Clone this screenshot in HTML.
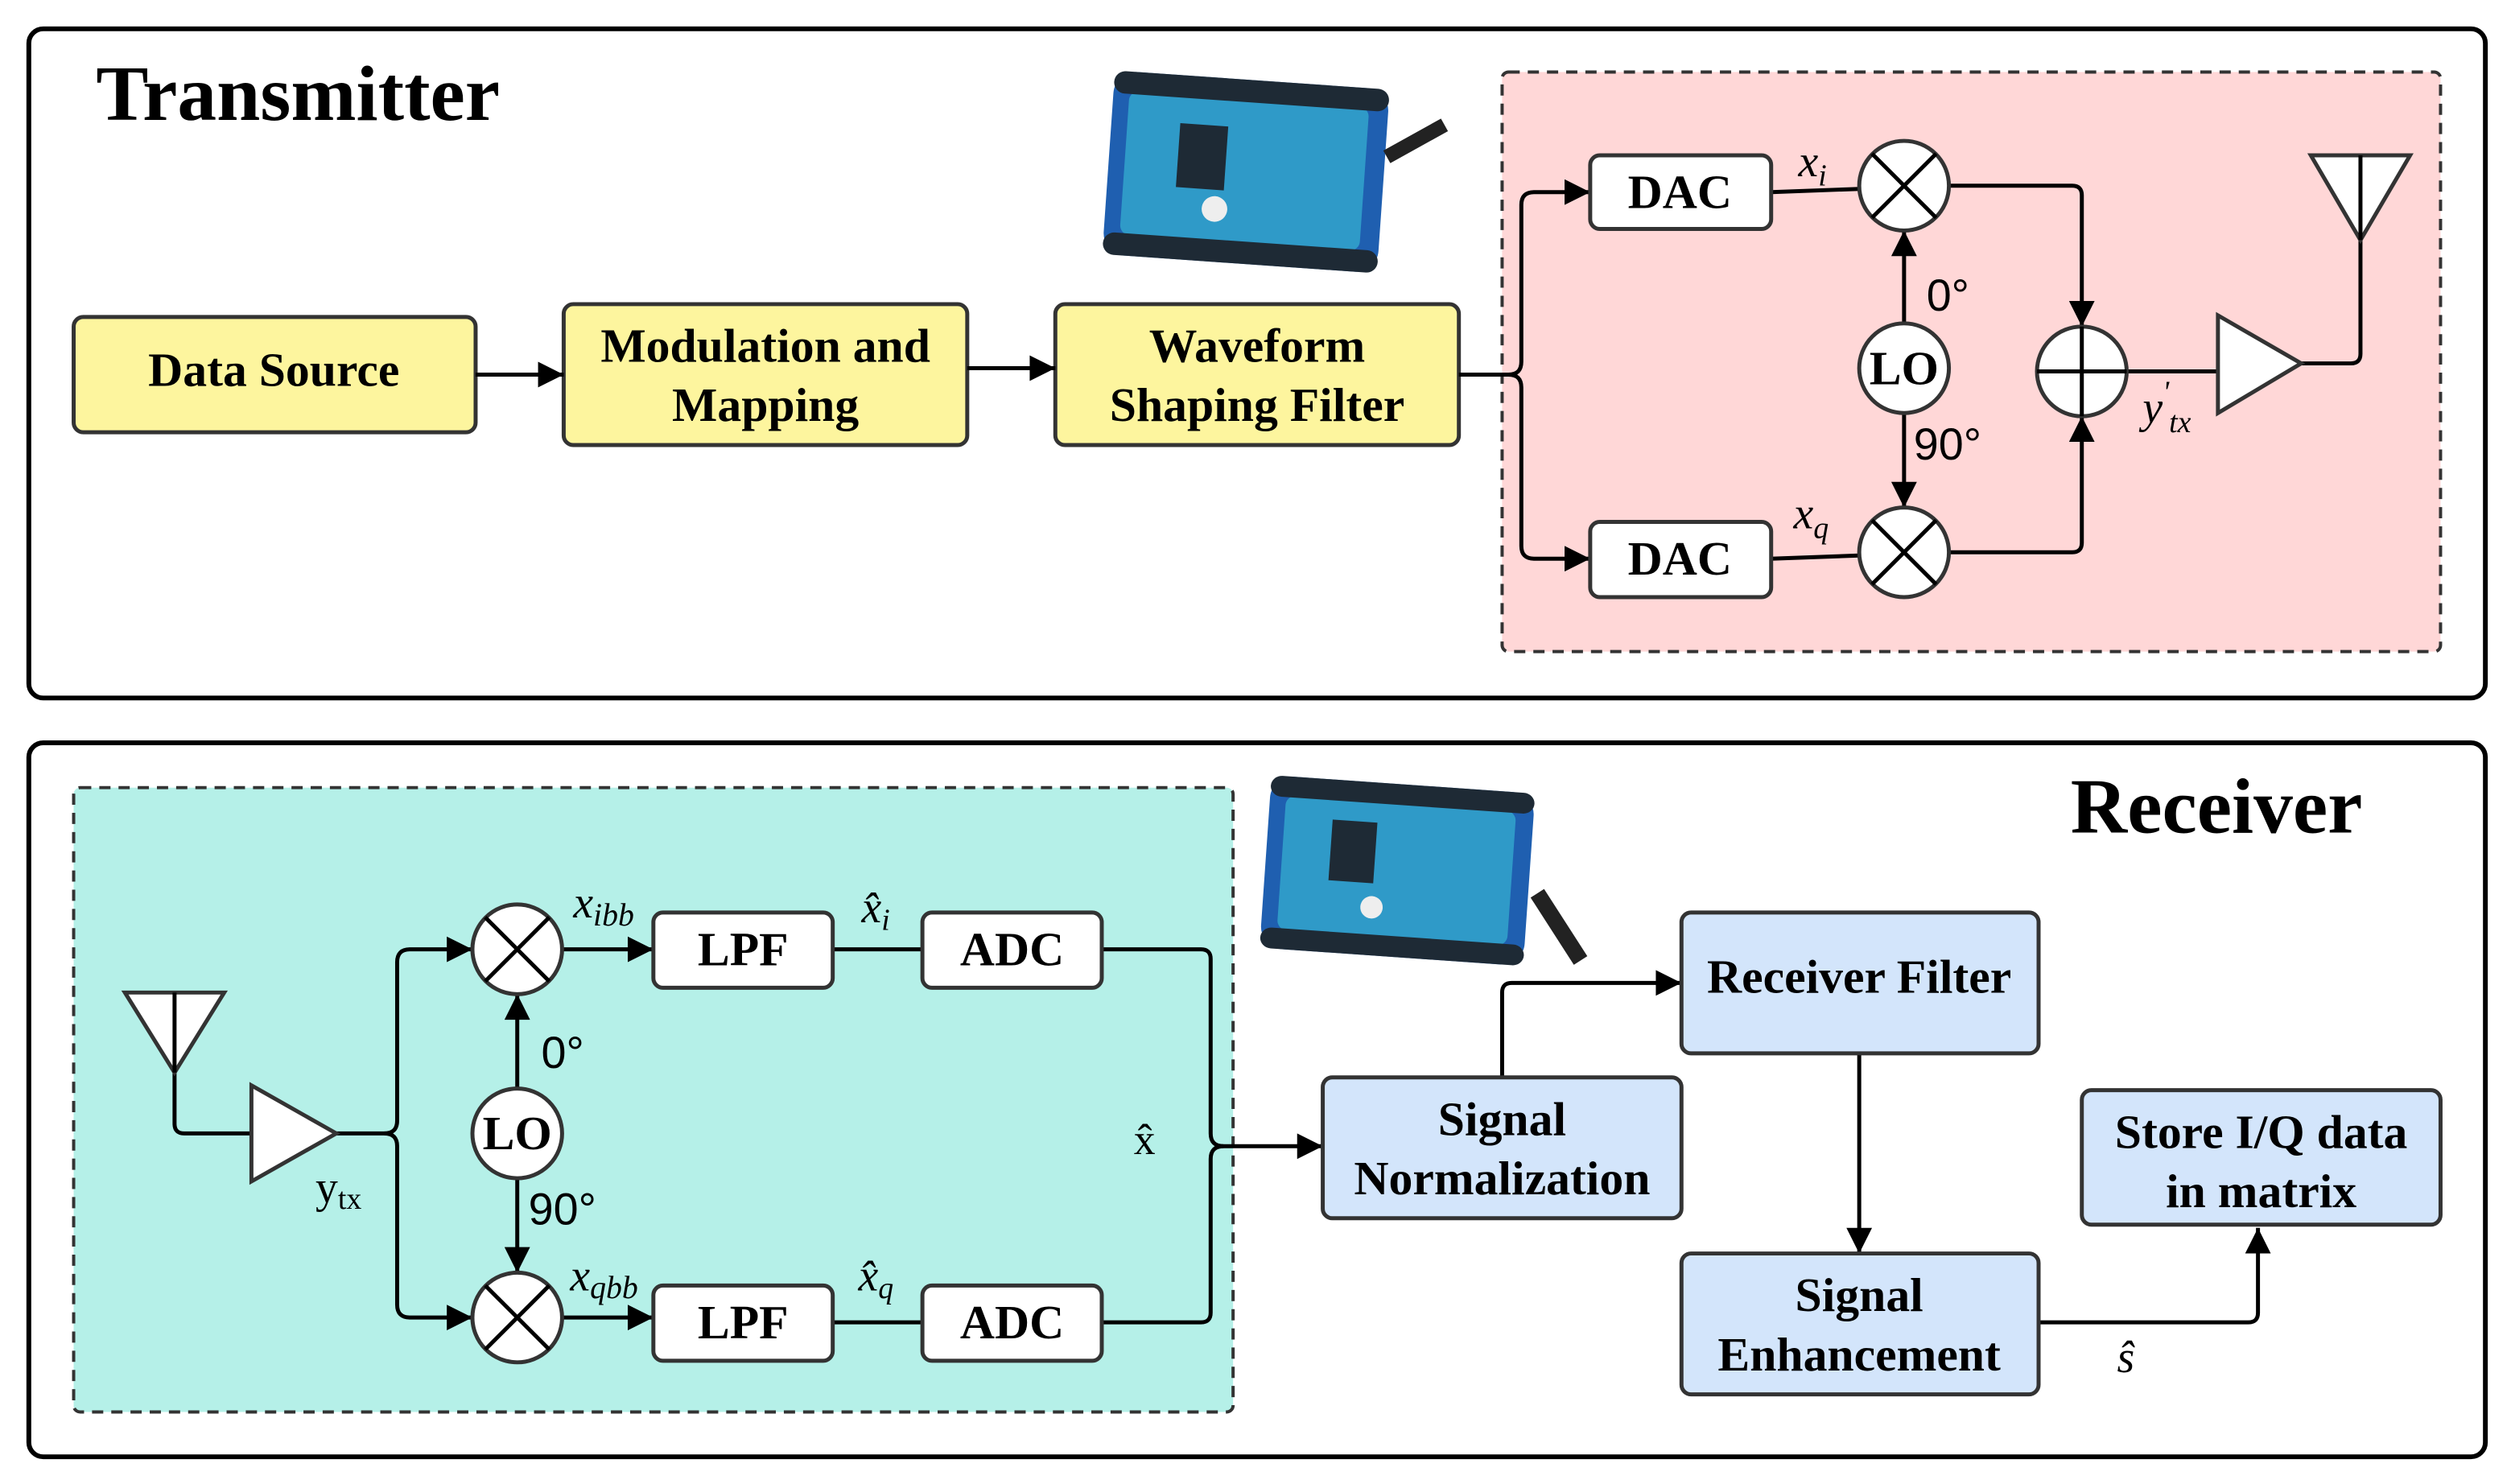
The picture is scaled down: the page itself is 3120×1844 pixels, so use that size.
<!DOCTYPE html>
<html><head><meta charset="utf-8"><style>
html,body{margin:0;padding:0;background:#fff;}
svg{display:block;}
.b{font-family:"Liberation Serif",serif;font-weight:bold;font-size:30px;fill:#000;text-anchor:middle;}
.m{font-family:"Liberation Serif",serif;font-style:italic;font-size:28px;fill:#000;}
.n{font-family:"Liberation Sans",sans-serif;font-size:28px;fill:#000;}
</style></head><body>
<svg width="3120" height="1844" viewBox="0 0 1568 927" preserveAspectRatio="none" xmlns="http://www.w3.org/2000/svg">
<defs>
<marker id="A" viewBox="0 0 10 10" markerWidth="20" markerHeight="16" refX="10" refY="5" orient="auto" markerUnits="userSpaceOnUse"><path d="M0,0 L10,5 L0,10 Z" fill="#000"/></marker></defs>
<rect x="0" y="0" width="1568" height="927" fill="#fff"/>
<rect x="18" y="18" width="1534" height="418" rx="9" fill="none" stroke="#000" stroke-width="3"/>
<rect x="18" y="464" width="1534" height="446" rx="9" fill="none" stroke="#000" stroke-width="3"/>
<text x="60" y="75" font-family="Liberation Serif,serif" font-weight="bold" font-size="49">Transmitter</text>
<text x="1293" y="520" font-family="Liberation Serif,serif" font-weight="bold" font-size="49">Receiver</text>
<rect x="938" y="45" width="586" height="362" rx="4" fill="#ffd7d7" stroke="#333" stroke-width="2" stroke-dasharray="7,5"/>
<rect x="46" y="492" width="724" height="390" rx="4" fill="#b5f0e8" stroke="#333" stroke-width="2" stroke-dasharray="7,5"/>
<g transform="rotate(4 780 108)">
<rect x="692" y="50" width="172" height="115" rx="14" fill="#1f5fb0"/>
<rect x="702" y="62" width="150" height="90" rx="6" fill="#2f9ac8"/>
<rect x="692" y="50" width="172" height="14" rx="7" fill="#1e2a35"/>
<rect x="692" y="151" width="172" height="14" rx="7" fill="#1e2a35"/>
<rect x="735" y="80" width="30" height="40" fill="#1e2a35"/>
<circle cx="760" cy="132" r="8" fill="#eee"/>
</g>
<line x1="866" y1="98" x2="902" y2="78" stroke="#222" stroke-width="9"/>
<g transform="rotate(4 875 545)">
<rect x="790" y="490" width="165" height="108" rx="14" fill="#1f5fb0"/>
<rect x="800" y="502" width="144" height="84" rx="6" fill="#2f9ac8"/>
<rect x="790" y="490" width="165" height="13" rx="7" fill="#1e2a35"/>
<rect x="790" y="585" width="165" height="13" rx="7" fill="#1e2a35"/>
<rect x="830" y="515" width="28" height="38" fill="#1e2a35"/>
<circle cx="858" cy="568" r="7" fill="#eee"/>
</g>
<line x1="960" y1="558" x2="987" y2="600" stroke="#222" stroke-width="10"/>
<g fill="#fdf59e" stroke="#333" stroke-width="2.5">
<rect x="46" y="198" width="251" height="72" rx="6"/>
<rect x="352" y="190" width="252" height="88" rx="6"/>
<rect x="659" y="190" width="252" height="88" rx="6"/>
</g>
<text class="b" x="171" y="241">Data Source</text>
<text class="b" x="478" y="226">Modulation and</text>
<text class="b" x="478" y="263">Mapping</text>
<text class="b" x="785" y="226">Waveform</text>
<text class="b" x="785" y="263">Shaping Filter</text>
<g stroke="#000" stroke-width="2.5" fill="none">
<line x1="297" y1="234" x2="352" y2="234" marker-end="url(#A)"/>
<line x1="604" y1="230" x2="659" y2="230" marker-end="url(#A)"/>
<path d="M911,234 H942 Q950,234 950,226 V128 Q950,120 958,120 H993" marker-end="url(#A)"/>
<path d="M942,234 Q950,234 950,242 V341 Q950,349 958,349 H993" marker-end="url(#A)"/>
<line x1="1106" y1="120" x2="1161" y2="118"/>
<line x1="1106" y1="349" x2="1161" y2="347"/>
<line x1="1189" y1="202" x2="1189" y2="144" marker-end="url(#A)"/>
<line x1="1189" y1="258" x2="1189" y2="317" marker-end="url(#A)"/>
<path d="M1217,116 H1294 Q1300,116 1300,122 V204" marker-end="url(#A)"/>
<path d="M1217,345 H1294 Q1300,345 1300,339 V260" marker-end="url(#A)"/>
<line x1="1328" y1="232" x2="1385" y2="232"/>
<path d="M1437,227 H1468 Q1474,227 1474,221 V97"/>
</g>
<g fill="#fff" stroke="#333" stroke-width="2.5">
<rect x="993" y="97" width="113" height="46" rx="6"/>
<rect x="993" y="326" width="113" height="47" rx="6"/>
<circle cx="1189" cy="116" r="28"/><circle cx="1189" cy="345" r="28"/>
<circle cx="1189" cy="230" r="28"/><circle cx="1300" cy="232" r="28"/>
<path d="M1385,197 L1437,227 L1385,258 Z"/>
<path d="M1443,97 L1505,97 L1474,150 Z"/>
</g>
<g stroke="#000" stroke-width="2.5">
<line x1="1169" y1="96" x2="1209" y2="136"/><line x1="1209" y1="96" x2="1169" y2="136"/>
<line x1="1169" y1="325" x2="1209" y2="365"/><line x1="1209" y1="325" x2="1169" y2="365"/>
<line x1="1272" y1="232" x2="1328" y2="232"/><line x1="1300" y1="204" x2="1300" y2="260"/>
<line x1="1474" y1="97" x2="1474" y2="150"/>
</g>
<text class="b" x="1049" y="130">DAC</text>
<text class="b" x="1049" y="359">DAC</text>
<text class="b" x="1189" y="240">LO</text>
<text class="n" x="1203" y="194">0°</text>
<text class="n" x="1195" y="287">90°</text>
<text class="m" x="1123" y="110">x<tspan font-size="19" dy="6">i</tspan></text>
<text class="m" x="1120" y="330">x<tspan font-size="19" dy="6">q</tspan></text>
<text class="m" x="1338" y="264">y<tspan font-size="19" dy="-13">'</tspan><tspan font-size="19" dy="19">tx</tspan></text>
<g stroke="#000" stroke-width="2.5" fill="none">
<path d="M109,620 V702 Q109,708 115,708 H157"/>
<path d="M210,708 H240 Q248,708 248,700 V601 Q248,593 256,593 H295" marker-end="url(#A)"/>
<path d="M240,708 Q248,708 248,716 V815 Q248,823 256,823 H295" marker-end="url(#A)"/>
<line x1="323" y1="680" x2="323" y2="621" marker-end="url(#A)"/>
<line x1="323" y1="736" x2="323" y2="795" marker-end="url(#A)"/>
<line x1="351" y1="593" x2="408" y2="593" marker-end="url(#A)"/>
<line x1="351" y1="823" x2="408" y2="823" marker-end="url(#A)"/>
<line x1="520" y1="593" x2="576" y2="593"/>
<line x1="520" y1="826" x2="576" y2="826"/>
<path d="M688,593 H750 Q756,593 756,599 V708 Q756,716 764,716 H826" marker-end="url(#A)"/>
<path d="M688,826 H750 Q756,826 756,820 V724 Q756,716 764,716"/>
<path d="M938,673 V620 Q938,614 944,614 H1050" marker-end="url(#A)"/>
<line x1="1161" y1="658" x2="1161" y2="783" marker-end="url(#A)"/>
<path d="M1273,826 H1404 Q1410,826 1410,820 V767" marker-end="url(#A)"/>
</g>
<g fill="#fff" stroke="#333" stroke-width="2.5">
<path d="M78,620 L140,620 L109,670 Z"/>
<path d="M157,678 L210,708 L157,738 Z"/>
<circle cx="323" cy="593" r="28"/><circle cx="323" cy="823" r="28"/><circle cx="323" cy="708" r="28"/>
<rect x="408" y="570" width="112" height="47" rx="6"/>
<rect x="408" y="803" width="112" height="47" rx="6"/>
<rect x="576" y="570" width="112" height="47" rx="6"/>
<rect x="576" y="803" width="112" height="47" rx="6"/>
</g>
<g stroke="#000" stroke-width="2.5">
<line x1="109" y1="620" x2="109" y2="670"/>
<line x1="303" y1="573" x2="343" y2="613"/><line x1="343" y1="573" x2="303" y2="613"/>
<line x1="303" y1="803" x2="343" y2="843"/><line x1="343" y1="803" x2="303" y2="843"/>
</g>
<text class="b" x="323" y="718">LO</text>
<text class="b" x="464" y="603">LPF</text>
<text class="b" x="464" y="836">LPF</text>
<text class="b" x="632" y="603">ADC</text>
<text class="b" x="632" y="836">ADC</text>
<text class="n" x="338" y="667">0°</text>
<text class="n" x="330" y="765">90°</text>
<text font-family="Liberation Serif,serif" font-size="28" x="197" y="751">y<tspan font-size="19" dy="4">tx</tspan></text>
<text class="m" x="358" y="573">x<tspan font-size="20" dy="5">ibb</tspan></text>
<text class="m" x="356" y="806">x<tspan font-size="20" dy="5">qbb</tspan></text>
<text class="m" x="538" y="576">x̂<tspan font-size="19" dy="5">i</tspan></text>
<text class="m" x="536" y="806">x̂<tspan font-size="19" dy="5">q</tspan></text>
<text font-family="Liberation Serif,serif" font-size="27" x="708" y="721">x̂</text>
<text class="m" x="1322" y="857">ŝ</text>
<g fill="#d3e5fb" stroke="#333" stroke-width="2.5">
<rect x="826" y="673" width="224" height="88" rx="6"/>
<rect x="1050" y="570" width="223" height="88" rx="6"/>
<rect x="1050" y="783" width="223" height="88" rx="6"/>
<rect x="1300" y="681" width="224" height="84" rx="6"/>
</g>
<text class="b" x="938" y="709">Signal</text>
<text class="b" x="938" y="746">Normalization</text>
<text class="b" x="1161" y="620">Receiver Filter</text>
<text class="b" x="1161" y="819">Signal</text>
<text class="b" x="1161" y="856">Enhancement</text>
<text class="b" x="1412" y="717">Store I/Q data</text>
<text class="b" x="1412" y="754">in matrix</text>
</svg>
</body></html>
